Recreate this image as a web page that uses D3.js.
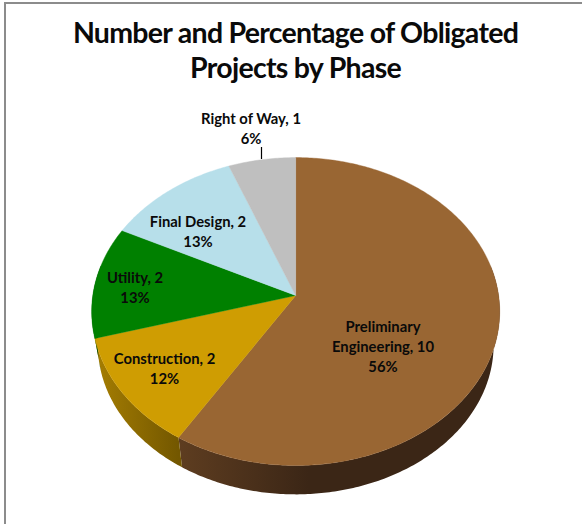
<!DOCTYPE html>
<html>
<head>
<meta charset="utf-8">
<script src="https://cdn.jsdelivr.net/npm/d3@7"></script>
<style>
  html, body { margin: 0; padding: 0; background: #fff; }
  svg { display: block; }
  text { font-family: Lato, "Open Sans", sans-serif; font-weight: 700; fill: #0a0a0a; text-anchor: middle; }
</style>
</head>
<body>
<svg id="chart" width="582" height="524"></svg>
<script>
// Chart data
const phases = ["Preliminary Engineering", "Construction", "Utility", "Final Design", "Right of Way"];
const projectCounts = [10, 2, 2, 2, 1];
const percentLabels = ["56%", "12%", "13%", "13%", "6%"];
const titleLines = ["Number and Percentage of Obligated", "Projects by Phase"];

const topColors = ["#996633", "#cf9d02", "#008000", "#b7dfea", "#bfbfbf"];
const sideLeft = ["#5e3d20", "#a67e02", "#006000", "#8fb0b8", "#909090"];
const sideRight = ["#3b2616", "#735700", "#004000", "#7f9ca3", "#808080"];

// Label centres, first line
const labelAt = [[383, 332], [164.5, 364], [135, 283], [198, 227], [251, 124]];

const width = 582;
const height = 524;
const cx = 295.7;
const cy = 295.5;

// Excel style 3D pie: a circle seen in perspective
const persp = 0.104;
const radiusX = 202.9;
const radiusY = 152.3;
const depth = 34;
const lowerScale = 0.97;

function project(angle, r, lower) {
  const X = r * Math.sin(angle);
  const Y = -r * Math.cos(angle);
  const w = 1 - persp * Y;
  const s = lower ? lowerScale : 1;
  return [cx + s * radiusX * X / w, cy + (lower ? depth : 0) + s * radiusY * Y / w];
}

function arcPoints(a0, a1, lower) {
  const n = Math.max(2, Math.ceil((a1 - a0) * 80));
  return d3.range(n + 1).map(i => project(a0 + (a1 - a0) * i / n, 1, lower));
}

// the long first label wraps after "Preliminary"
function labelLines(i) {
  const head = `${phases[i]}, ${projectCounts[i]}`;
  const lines = phases[i].length > 20 ? [head.slice(0, head.indexOf(" ")), head.slice(head.indexOf(" ") + 1)] : [head];
  return lines.concat(percentLabels[i]);
}

const svg = d3.select("#chart");
const defs = svg.append("defs");
const line = d3.line();

// frame, only the top and left edges show
svg.append("path")
  .attr("d", line([[5, height], [5, 3], [width, 3]]))
  .attr("fill", "none")
  .attr("stroke", "#8c8c8c")
  .attr("stroke-width", 2);

svg.selectAll("text.title")
  .data(titleLines)
  .enter()
  .append("text")
  .attr("class", "title")
  .attr("x", 295.5)
  .attr("y", (d, i) => 43 + i * 35)
  .attr("font-size", 28.5)
  .attr("letter-spacing", -0.72)
  .text(d => d);

const slices = d3.pie().sort(null).value(d => d)(projectCounts);

// side wall first, the top goes over it
const front = svg.append("g");
slices.forEach((s, i) => {
  const a0 = Math.max(s.startAngle, Math.PI / 2 - 0.2);
  const a1 = Math.min(s.endAngle, 3 * Math.PI / 2 + 0.2);
  if (a1 <= a0) return;
  const upper = arcPoints(a0, a1, false);
  const lower = arcPoints(a0, a1, true);
  const grad = defs.append("linearGradient")
    .attr("id", "side" + i)
    .attr("gradientUnits", "userSpaceOnUse")
    .attr("x1", d3.min(upper, p => p[0]))
    .attr("x2", i === 0 ? d3.min(upper, p => p[0]) + 130 : d3.max(upper, p => p[0]))
    .attr("y1", 0)
    .attr("y2", 0);
  grad.append("stop").attr("offset", 0).attr("stop-color", sideLeft[i]);
  grad.append("stop").attr("offset", 1).attr("stop-color", sideRight[i]);
  front.append("path")
    .attr("d", line(upper.concat(lower.reverse())) + "Z")
    .attr("fill", "url(#side" + i + ")");
});

svg.append("g")
  .selectAll("path")
  .data(slices)
  .enter()
  .append("path")
  .attr("d", d => line([[cx, cy]].concat(arcPoints(d.startAngle, d.endAngle, false))) + "Z")
  .attr("fill", (d, i) => topColors[i])
  .attr("stroke", (d, i) => topColors[i])
  .attr("stroke-width", 0.4);

// leader line of the small slice
svg.append("path")
  .attr("d", line([[261.5, 147], [261.5, 159]]))
  .attr("stroke", "#000")
  .attr("stroke-width", 1.2);

const labels = svg.selectAll("g.label")
  .data(phases)
  .enter()
  .append("g")
  .attr("class", "label")
  .attr("transform", (d, i) => `translate(${labelAt[i][0]},${labelAt[i][1]})`);

labels.selectAll("text")
  .data((d, i) => labelLines(i))
  .enter()
  .append("text")
  .attr("y", (d, i) => i * 20)
  .attr("font-size", 14.8)
  .text(d => d);
</script>
</body>
</html>
